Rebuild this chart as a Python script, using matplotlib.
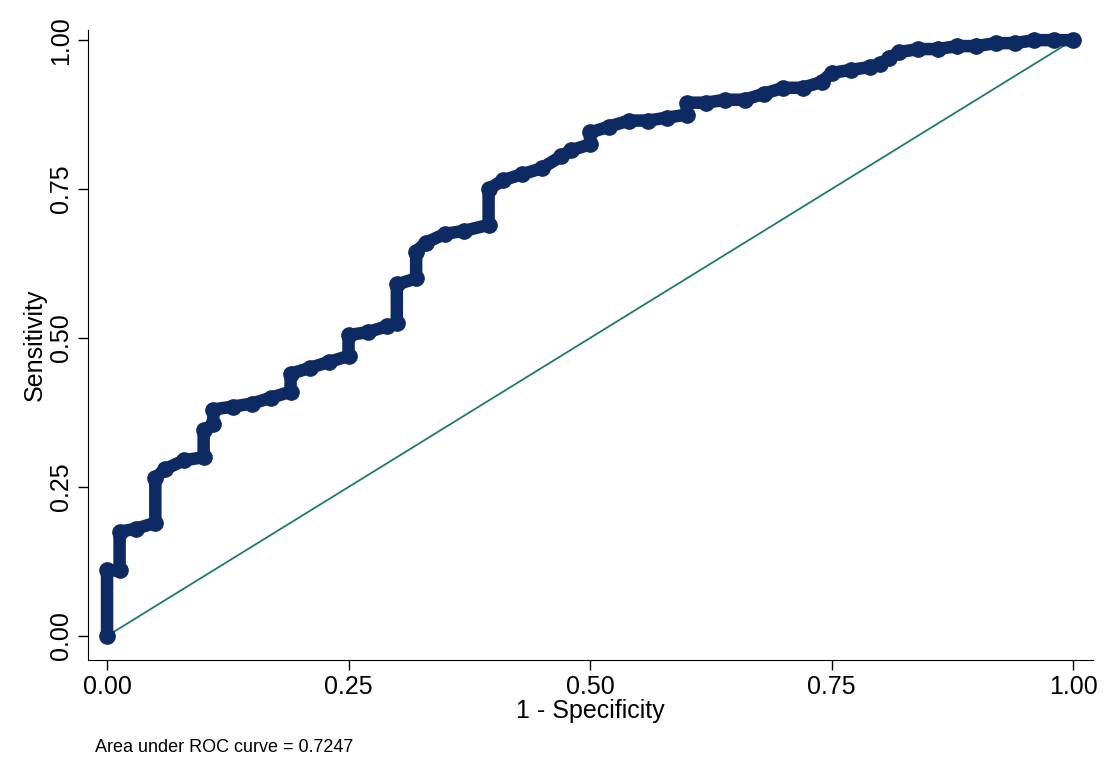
import matplotlib
matplotlib.use('Agg')
import matplotlib.pyplot as plt

# ROC vertices (1 - specificity, sensitivity)
fpr = [0, 0, 0.013, 0.013, 0.03, 0.05, 0.05, 0.06, 0.08, 0.10, 0.10, 0.11, 0.11,
       0.13, 0.15, 0.17, 0.19, 0.19, 0.21, 0.23, 0.25, 0.25, 0.27, 0.29, 0.30,
       0.30, 0.32, 0.32, 0.33, 0.35, 0.37, 0.395, 0.395, 0.41, 0.43, 0.45, 0.47,
       0.48, 0.50, 0.50, 0.52, 0.54, 0.56, 0.58, 0.60, 0.60, 0.62, 0.64, 0.66,
       0.68, 0.70, 0.72, 0.74, 0.75, 0.77, 0.79, 0.80, 0.81, 0.82, 0.84, 0.86,
       0.88, 0.90, 0.92, 0.94, 0.96, 0.98, 1.0]
tpr = [0, 0.11, 0.11, 0.175, 0.18, 0.19, 0.265, 0.28, 0.295, 0.30, 0.345, 0.355,
       0.38, 0.385, 0.39, 0.40, 0.41, 0.44, 0.45, 0.46, 0.47, 0.505, 0.51, 0.52,
       0.525, 0.59, 0.60, 0.645, 0.66, 0.675, 0.68, 0.69, 0.75, 0.765, 0.775,
       0.785, 0.805, 0.815, 0.825, 0.845, 0.855, 0.865, 0.865, 0.87, 0.875,
       0.895, 0.895, 0.90, 0.90, 0.91, 0.92, 0.92, 0.93, 0.945, 0.95, 0.955,
       0.96, 0.97, 0.98, 0.985, 0.985, 0.99, 0.99, 0.995, 0.995, 1.0, 1.0, 1.0]
ticks = [0.0, 0.25, 0.5, 0.75, 1.0]
tick_labels = ['0.00', '0.25', '0.50', '0.75', '1.00']
auc = 0.7247

plt.rcParams['font.family'] = ['Liberation Sans', 'DejaVu Sans']
navy = '#0e2a62'

fig = plt.figure(figsize=(11.03, 7.6), dpi=100)
ax = fig.add_axes([88/1103, 100/760, 1005/1103, 630/760])
ax.plot([0, 1], [0, 1], color='#1f7a6e', lw=1.3, zorder=1)
ax.plot(fpr, tpr, color=navy, lw=9, solid_capstyle='round', zorder=2)
ax.plot(fpr, tpr, 'o', color=navy, ms=11, zorder=3)

ax.set_xlim(-0.0197, 1.0207)
ax.set_ylim(-0.0403, 1.017)
ax.set_xticks(ticks)
ax.set_xticklabels(tick_labels, fontsize=18)
ax.set_yticks(ticks)
ax.set_yticklabels(tick_labels, fontsize=18, rotation=90, va='center')
ax.tick_params(length=7, width=1)
for s in ['top', 'right']:
    ax.spines[s].set_visible(False)
ax.set_xlabel('1 - Specificity', fontsize=18, labelpad=0)
ax.set_ylabel('Sensitivity', fontsize=18, labelpad=2)
fig.text(95/1103, 1 - 748/760, 'Area under ROC curve = %.4f' % auc,
         fontsize=13, va='center')
fig.savefig('out.png', dpi=100, facecolor='white')
